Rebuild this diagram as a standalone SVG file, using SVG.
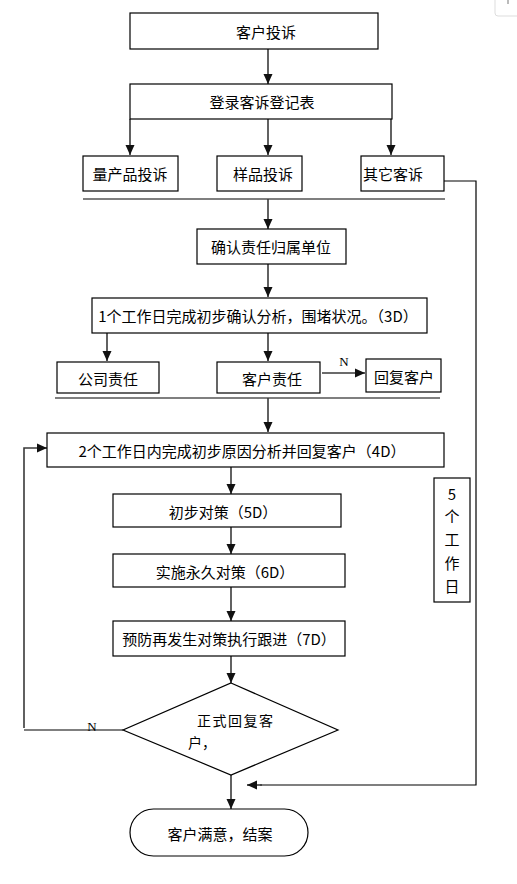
<svg xmlns="http://www.w3.org/2000/svg" width="517" height="884" viewBox="0 0 517 884">
<defs>
<marker id="ah" markerUnits="userSpaceOnUse" markerWidth="10" markerHeight="10" viewBox="0 0 10 10" refX="10" refY="5" orient="auto">
<path d="M0,0.5 L10,5 L0,9.5 Z" fill="#111"/>
</marker>
<style>
.box{fill:#fff;stroke:#000;stroke-width:1.2}
.t{font-family:"Noto Sans CJK SC","Noto Sans",sans-serif;font-size:15px;fill:#000;dominant-baseline:central}
.c{text-anchor:middle}
.ln{fill:none;stroke:#3a3a3a;stroke-width:1.6}
.ar{fill:none;stroke:#3a3a3a;stroke-width:1.6;marker-end:url(#ah)}
.thin{fill:none;stroke:#000;stroke-width:1.2}
.nl{font-family:"Liberation Serif",serif;font-size:13px;fill:#000;text-anchor:middle;dominant-baseline:central}
</style>
</defs>
<rect width="517" height="884" fill="#fff"/>
<path d="M495,0 V13 Q495,16 498,16 H517" fill="none" stroke="#ddd" stroke-width="1"/>
<line x1="508" y1="0" x2="508" y2="4" stroke="#bbb" stroke-width="2"/>

<g id="connectors">
<line class="ar" x1="268" y1="49" x2="268" y2="84"/>
<line class="ar" x1="130" y1="119" x2="130" y2="155"/>
<line class="ar" x1="268" y1="119" x2="268" y2="155"/>
<line class="ar" x1="391" y1="107" x2="391" y2="155"/>
<line class="thin" x1="83" y1="199" x2="445" y2="199"/>
<line class="ar" x1="268" y1="199" x2="268" y2="229"/>
<line class="ar" x1="268" y1="264" x2="268" y2="297"/>
<line class="ar" x1="107" y1="333" x2="107" y2="361"/>
<line class="ar" x1="268" y1="333" x2="268" y2="361"/>
<line class="ar" x1="322" y1="373" x2="365" y2="373"/>
<text class="nl" x="344" y="361">N</text>
<line class="thin" x1="55" y1="398" x2="440" y2="398"/>
<line class="ar" x1="268" y1="398" x2="268" y2="432"/>
<line class="ar" x1="231" y1="467" x2="231" y2="494"/>
<line class="ar" x1="231" y1="527" x2="231" y2="554"/>
<line class="ar" x1="231" y1="587" x2="231" y2="621"/>
<line class="ar" x1="231" y1="656" x2="231" y2="683"/>
<line class="ar" x1="231" y1="775" x2="231" y2="809"/>
<polyline class="thin" points="123,730 24,730"/>
<polyline class="ar" points="24,728 24,448 47,448"/>
<text class="nl" x="92" y="726">N</text>
<polyline class="thin" points="444,181 476,181 476,785 260,785"/>
<line class="ar" x1="262" y1="785" x2="247" y2="785"/>
</g>

<g id="n1"><rect class="box" x="130" y="13" width="248" height="36"/><text class="t c" x="266" y="31">客户投诉</text></g>
<g id="n2"><rect class="box" x="130" y="84" width="262" height="35"/><text class="t c" x="262" y="101">登录客诉登记表</text></g>
<g id="n3"><rect class="box" x="83" y="156" width="95" height="35"/><text class="t c" x="130" y="173">量产品投诉</text></g>
<g id="n4"><rect class="box" x="217" y="156" width="85" height="35"/><text class="t c" x="263" y="173">样品投诉</text></g>
<g id="n5"><rect class="box" x="361" y="156" width="83" height="35"/><text class="t" x="363" y="173">其它客诉</text></g>
<g id="n6"><rect class="box" x="197" y="229" width="149" height="35"/><text class="t c" x="271" y="246">确认责任归属单位</text></g>
<g id="n7"><rect class="box" x="92" y="298" width="335" height="35"/><text class="t c" x="258" y="315">1个工作日完成初步确认分析，围堵状况。（3D）</text></g>
<g id="n8"><rect class="box" x="57" y="362" width="102" height="31"/><text class="t c" x="108" y="378">公司责任</text></g>
<g id="n9"><rect class="box" x="217" y="362" width="103" height="31"/><text class="t c" x="272" y="378">客户责任</text></g>
<g id="n10"><rect class="box" x="366" y="359" width="75" height="33"/><text class="t c" x="404" y="376">回复客户</text></g>
<g id="n11"><rect class="box" x="47" y="433" width="397" height="34"/><text class="t c" x="242" y="450">2个工作日内完成初步原因分析并回复客户（4D）</text></g>
<g id="n12"><rect class="box" x="113" y="494" width="228" height="33"/><text class="t c" x="223" y="511">初步对策（5D）</text></g>
<g id="n13"><rect class="box" x="113" y="554" width="232" height="33"/><text class="t c" x="225" y="571">实施永久对策（6D）</text></g>
<g id="n14"><rect class="box" x="113" y="621" width="232" height="35"/><text class="t c" x="229" y="638">预防再发生对策执行跟进（7D）</text></g>
<g id="n15"><rect class="box" x="434" y="478" width="36" height="124"/>
<text class="t c" x="452" y="493">5</text><text class="t c" x="452" y="515">个</text><text class="t c" x="452" y="538">工</text><text class="t c" x="452" y="562">作</text><text class="t c" x="452" y="585">日</text></g>
<g id="n16"><polygon class="box" points="231,683 338,730 231,775 123,730"/><text class="t" x="197" y="720" style="font-size:14px;letter-spacing:1.5px">正式回复客</text><text class="t" x="188" y="742" style="font-size:14px">户，</text></g>
<g id="n17"><rect class="box" x="130" y="809" width="178" height="47" rx="23.5" ry="23.5"/><text class="t c" x="220" y="833">客户满意，结案</text></g>
</svg>
